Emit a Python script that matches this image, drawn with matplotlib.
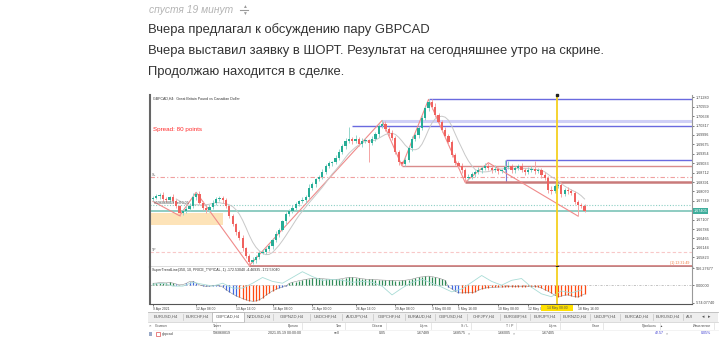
import numpy as np
import matplotlib
matplotlib.use("Agg")
import matplotlib.pyplot as plt
import matplotlib.transforms as mtransforms
from matplotlib.lines import Line2D
from matplotlib.patches import Rectangle

plt.rcParams['font.family'] = ['Liberation Sans', 'DejaVu Sans']

W, H = 720, 352

# forum post
post_time = "спустя 19 минут"
post_lines = ["Вчера предлагал к обсуждению пару GBPCAD",
              "Вчера выставил заявку в ШОРТ. Результат на сегодняшнее утро на скрине.",
              "Продолжаю находится в сделке."]

# GBPCAD H4 candles (closes, open of first bar, wicks in pips)
first_open = 1.6780
closes = [
    1.6785, 1.6791, 1.6795, 1.6781, 1.6778, 1.6788, 1.6774, 1.6757, 1.6733, 1.6740,
    1.6747, 1.6757, 1.6788, 1.6798, 1.6768, 1.6751, 1.6744, 1.6754, 1.6768, 1.6781,
    1.6785, 1.6778, 1.6757, 1.6723, 1.6696, 1.6669, 1.6648, 1.6614, 1.6587, 1.6566,
    1.6573, 1.6583, 1.6597, 1.6600, 1.6611, 1.6621, 1.6641, 1.6662, 1.6676, 1.6706,
    1.6730, 1.6740, 1.6751, 1.6764, 1.6774, 1.6778, 1.6788, 1.6819, 1.6832, 1.6849,
    1.6856, 1.6873, 1.6894, 1.6904, 1.6907, 1.6921, 1.6941, 1.6962, 1.6979, 1.6986,
    1.6979, 1.6986, 1.6969, 1.6979, 1.6982, 1.6972, 1.6986, 1.7003, 1.7030, 1.7037,
    1.7020, 1.7006, 1.6989, 1.6941, 1.6907, 1.6901, 1.6914, 1.6955, 1.6986, 1.6999,
    1.7023, 1.7057, 1.7092, 1.7112, 1.7095, 1.7068, 1.7044, 1.7017, 1.6996, 1.6976,
    1.6931, 1.6904, 1.6894, 1.6880, 1.6853, 1.6856, 1.6866, 1.6873, 1.6880, 1.6887,
    1.6894, 1.6887, 1.6880, 1.6884, 1.6877, 1.6880, 1.6890, 1.6894, 1.6880, 1.6887,
    1.6894, 1.6880, 1.6873, 1.6880, 1.6884, 1.6877, 1.6880, 1.6863, 1.6853, 1.6812,
    1.6808, 1.6826, 1.6829, 1.6798, 1.6812, 1.6808, 1.6802, 1.6771, 1.6761, 1.6757,
    1.67405,
]
wick_up = [
    6, 8, 5, 10, 7, 4, 9, 6, 5, 8,
    12, 11, 15, 6, 9, 5, 8, 6, 10, 7,
    5, 8, 6, 4, 7, 5, 6, 9, 5, 8,
    10, 6, 7, 12, 5, 8, 6, 9, 7, 5,
    8, 6, 10, 7, 5, 9, 6, 12, 8, 5,
    7, 10, 6, 8, 5, 9, 12, 7, 10, 40,
    8, 14, 6, 9, 7, 5, 10, 8, 6, 12,
    9, 7, 10, 6, 8, 5, 9, 7, 11, 6,
    8, 10, 7, 9, 9, 12, 8, 6, 10, 7,
    5, 8, 6, 9, 7, 11, 6, 8, 10, 7,
    9, 11, 8, 12, 7, 5, 23, 18, 6, 8,
    7, 10, 6, 9, 8, 28, 7, 6, 9, 8,
    12, 7, 6, 10, 8, 9, 7, 6, 8, 5,
    6,
]
wick_dn = [
    7, 5, 9, 6, 8, 10, 6, 7, 9, 5,
    8, 6, 7, 10, 5, 9, 12, 6, 8, 7,
    6, 9, 5, 8, 7, 10, 6, 9, 8, 12,
    6, 9, 7, 5, 8, 6, 10, 7, 9, 5,
    12, 8, 6, 9, 7, 5, 10, 8, 6, 9,
    7, 5, 8, 6, 9, 7, 6, 8, 12, 7,
    9, 6, 8, 10, 7, 65, 8, 6, 9, 7,
    7, 10, 8, 6, 9, 7, 8, 6, 10, 7,
    9, 6, 8, 10, 7, 6, 9, 8, 7, 10,
    6, 8, 7, 9, 15, 6, 8, 10, 7, 9,
    6, 8, 10, 7, 9, 6, 8, 7, 9, 10,
    8, 7, 9, 6, 8, 10, 7, 9, 8, 12,
    9, 7, 8, 10, 6, 9, 8, 7, 38, 6,
    5,
]

# zigzag pivots (bar index, price)
zz_idx = [0, 8, 13, 29, 69, 75, 83, 94, 101, 128]
zz_price = [1.6773, 1.6724, 1.6804, 1.6554, 1.7049, 1.6894, 1.7121, 1.6838, 1.6905, 1.6723]

# drawn levels
lvl_top = 1.71212        # from bar 83
lvl_band = 1.70479       # from bar 69
lvl_blue = 1.70291       # from bar 60
lvl_box_top = 1.69132    # from bar 106
lvl_rose = 1.68927       # from bar 75
lvl_box_bot = 1.68375    # from bar 94
lvl_low = 1.65538        # from bar 29
sl_price = 1.68552
tp_price = 1.66005
order_price = 1.67597
bid = 1.67405
zone = (1.66926, 1.67335)
vline_bar = 121.6

price_ticks = [1.71280, 1.70959, 1.70638, 1.70317, 1.69996, 1.69675, 1.69354, 1.69033,
               1.68712, 1.68391, 1.68070, 1.67749, 1.67107, 1.66786, 1.66465, 1.66144, 1.65823]

# indicator histogram and signal
hist = [
    65, 70, 85, 80, 75, 90, 70, 40, 10, 20,
    60, 120, 130, 70, 10, -20, -40, -30, -20, -15,
    -25, -60, -150, -220, -290, -350, -400, -440, -480, -510,
    -530, -520, -480, -420, -330, -260, -190, -140, -90, -60,
    -40, 60, 95, 120, 150, 170, 190, 210, 225, 230,
    225, 215, 205, 200, 190, 195, 200, 215, 240, 255,
    260, 250, 230, 215, 200, 190, 195, 185, 175, 170,
    165, 160, 155, 150, 150, 155, 165, 180, 200, 230,
    260, 275, 290, 300, 285, 260, 235, 200, 160, -60,
    -120, -200, -250, -255, -250, -245, -250, -220, -170, -120,
    -95, -80, -70, -65, -60, -60, -55, -50, -50, -45,
    -45, -50, -45, -40, -45, -50, -55, -90, -150, -200,
    -260, -330, -380, -360, -330, -320, -350, -380, -390, -340,
    -290,
]
blue_bars = list(range(7, 26)) + [38, 39, 40, 89, 90, 91, 92]
sig_idx = list(range(0, 130, 3))
sig_vals = [30, 65, -30, -30, 95, 30, -30, 65, -95, -95,
            65, 255, 125, 65, 255, 445, 285, 160, 190, 160,
            95, 125, 95, -30, -320, -95, 95, 190, 65, -65,
            -220, -125, 95, 320, 125, 0, 160, 220, -65, -285,
            -380, -190, -255, -160]
ind_title = "SuperTrendLine(350, 10, PRICE_TYPICAL, 1) -172.53040 -4.46935 -172.53040"

date_ticks = [0, 13, 25, 36, 48, 61, 73, 84, 92, 104, 113, 128]
date_labels = ["9 Apr 2021", "12 Apr 08:00", "13 Apr 16:00", "16 Apr 08:00", "21 Apr 00:00",
               "26 Apr 16:00", "29 Apr 08:00", "3 May 00:00", "5 May 16:00", "10 May 08:00",
               "12 May 00:00", "18 May 16:00"]
cursor_date = "14 May 08:00"

tab_names = ["EURUSD,H4", "EURCHF,H4", "GBPCAD,H4", "NZDUSD,H4", "GBPNZD,H4", "USDCHF,H4",
             "AUDJPY,H4", "GBPCHF,H4", "EURAUD,H4", "GBPUSD,H4", "CHFJPY,H4", "EURGBP,H4",
             "EURJPY,H4", "EURNZD,H4", "USDJPY,H4", "EURCAD,H4", "EURUSD,H4"]
active_tab = "GBPCAD,H4"

col_heads = ["Символ", "Тикет", "Время", "Тип", "Объем", "Цена", "S / L", "T / P",
             "Цена", "Своп", "Прибыль", "Изменение"]
row_vals = ["gbpcad", "596868819", "2021.05.19 00:00:00", "sell", "0.05", "1.67489",
            "1.68575", "1.66005", "1.67405", "", "42.57", "0.05%"]


def fx(x):
    return x / W


def fy(y):
    return 1 - y / H


def px_rect(x0, y0, x1, y1):
    return [x0 / W, 1 - y1 / H, (x1 - x0) / W, (y1 - y0) / H]


def main():
    fig = plt.figure(figsize=(W / 100, H / 100), dpi=100)
    fig.patch.set_facecolor('white')

    # post header
    fig.text(fx(149), fy(10), post_time, fontsize=7.4, color='#b4b4b4', style='italic', va='center')
    fig.text(fx(244), fy(6.5), "▲", fontsize=3.5, color='#9a9a9a', ha='center', va='center')
    fig.text(fx(244), fy(13.5), "▼", fontsize=3.5, color='#9a9a9a', ha='center', va='center')
    fig.add_artist(Line2D([fx(240.5), fx(247.5)], [fy(10), fy(10)], color='#9a9a9a', lw=0.8))
    for k, line in enumerate(post_lines):
        fig.text(fx(148), fy(30 + 21 * k), line, fontsize=9.4, color='#333333', va='center')

    # main price panel
    ax = fig.add_axes(px_rect(150, 95, 692, 267))
    n = len(closes)
    idx = np.arange(n)
    c = np.array(closes)
    o = np.concatenate([[first_open], c[:-1]])
    hi = np.maximum(o, c) + np.array(wick_up) * 1e-4
    lo = np.minimum(o, c) - np.array(wick_dn) * 1e-4
    bull = c >= o
    x_right = 162.35
    ax.set_xlim(-0.9, x_right)
    ax.set_ylim(1.65493, 1.71358)

    ax.add_patch(Rectangle((-0.9, zone[0]), 22.0, zone[1] - zone[0], fc='#fde3b8', ec='none', zorder=0))

    ax.hlines(lvl_top, 83, x_right, color='#6a6adf', lw=1.0)
    ax.hlines(lvl_band, 69, x_right, color='#cfcff6', lw=2.2)
    ax.hlines(lvl_blue, 60, x_right, color='#6a6adf', lw=1.0)
    ax.hlines(lvl_box_top, 106.3, x_right, color='#6a6adf', lw=1.0)
    ax.vlines(106.3, lvl_box_bot, lvl_box_top, color='#7a7ad8', lw=0.8)
    ax.hlines(lvl_rose, 75, x_right, color='#d98c8c', lw=1.0)
    ax.hlines(lvl_box_bot, 94, x_right, color='#c97a7a', lw=1.8)
    ax.hlines(lvl_low, 29, x_right, color='#d98c8c', lw=1.4)
    ax.axhline(sl_price, color='#f0a0a0', lw=0.8, ls=(0, (4, 2, 1, 2)))
    ax.axhline(tp_price, color='#f8c8c8', lw=0.8, ls=(0, (3, 2)))
    ax.axhline(order_price, color='#8ccfc4', lw=0.8, ls=(0, (1, 1.5)))
    ax.axhline(bid, color='#7cc4b8', lw=1.2)

    ax.plot(zz_idx, zz_price, color='#f08a8a', lw=0.8)
    ma = np.convolve(c, np.ones(8) / 8, mode='valid')
    ax.plot(idx[7:], ma, color='#c8c8c8', lw=0.7)

    body_col = np.where(bull, '#26ad96', '#f0625f')
    wick_col = np.where(bull, '#94d6cc', '#f4a4a4')
    ax.vlines(idx, lo, hi, colors=wick_col, lw=0.7, zorder=3)
    ax.bar(idx, np.maximum(np.abs(c - o), 6e-5), bottom=np.minimum(o, c), width=0.68,
           color=body_col, lw=0, zorder=4)

    ax.axvline(vline_bar, color='#f5d020', lw=1.3, zorder=5)
    ax.plot([vline_bar, vline_bar], [1.71358, 1.65493], 's', ms=1.6, color='#222222',
            clip_on=False, zorder=6)

    ax.text(-0.4, sl_price, "SL", fontsize=2.6, color='#555555', va='bottom')
    ax.text(-0.4, tp_price, "TP", fontsize=2.6, color='#555555', va='bottom')
    ax.text(0.2, order_price, "#596868819 sell 0.05", fontsize=2.6, color='#444444', va='bottom')
    ax.text(0.005, 0.982, "GBPCAD,H4:  Great Britain Pound vs Canadian Dollar", fontsize=2.6,
            color='#333333', transform=ax.transAxes, va='center')
    ax.text(0.006, 0.80, "Spread: 80 points", fontsize=4.5, color='#ff2a2a',
            transform=ax.transAxes, va='center')
    ax.text(0.995, 0.025, "(1) 13:31:49", fontsize=2.6, color='#f07a40',
            transform=ax.transAxes, ha='right', va='center')

    ax.yaxis.tick_right()
    ax.set_yticks(price_ticks)
    ax.set_yticklabels([f"{p:.5f}" for p in price_ticks])
    ax.tick_params(axis='y', length=1.5, width=0.5, pad=1, labelsize=2.7, colors='#444444')
    ax.set_xticks([])
    blend = mtransforms.blended_transform_factory(ax.transAxes, ax.transData)
    ax.text(1.003, bid, f"{bid:.5f}", transform=blend, ha='left', va='center', fontsize=2.7,
            color='white', bbox=dict(boxstyle='square,pad=0.25', fc='#3fae9c', ec='none'))
    ax.spines['top'].set_visible(False)
    ax.spines['left'].set_color('#666666')
    ax.spines['left'].set_linewidth(1.5)
    ax.spines['right'].set_color('#999999')
    ax.spines['right'].set_linewidth(0.8)
    ax.spines['bottom'].set_color('#555555')
    ax.spines['bottom'].set_linewidth(1.0)

    # indicator panel
    ax2 = fig.add_axes(px_rect(150, 267, 692, 304))
    ax2.set_xlim(-0.9, x_right)
    ax2.set_ylim(-620, 600)
    ax2.axhline(0, color='#aaaaaa', lw=0.5, ls=(0, (3, 2, 1, 2)), zorder=0)
    hcol = []
    for i, v in enumerate(hist):
        if i in blue_bars:
            hcol.append('#4169e1')
        elif v >= 0:
            hcol.append('#2e8b57')
        else:
            hcol.append('#ff4a12')
    ax2.vlines(idx, 0, hist, colors=hcol, lw=0.9)
    ax2.plot(idx, hist, color='#555555', lw=0.35, alpha=0.7)
    ax2.plot(sig_idx, sig_vals, color='#a8dcd6', lw=0.6)
    ax2.axvline(vline_bar, color='#f5d020', lw=1.3)
    ax2.text(0.004, 0.93, ind_title, fontsize=2.6, color='#333333', transform=ax2.transAxes, va='center')
    ax2.yaxis.tick_right()
    ax2.set_yticks([566.27677, 0, -574.0774])
    ax2.set_yticklabels(["566.27677", "0.00000", "-574.07740"])
    ax2.tick_params(axis='y', length=1.5, width=0.5, pad=1, labelsize=2.7, colors='#444444')
    ax2.set_xticks(date_ticks)
    ax2.set_xticklabels(date_labels)
    ax2.tick_params(axis='x', length=1.5, width=0.5, pad=0.8, labelsize=2.4, colors='#444444')
    for lbl in ax2.get_xticklabels():
        lbl.set_ha('left')
    ax2.spines['top'].set_visible(False)
    ax2.spines['left'].set_color('#666666')
    ax2.spines['left'].set_linewidth(1.5)
    ax2.spines['right'].set_color('#999999')
    ax2.spines['right'].set_linewidth(0.8)
    ax2.spines['bottom'].set_color('#555555')
    ax2.spines['bottom'].set_linewidth(0.8)

    # cursor date box
    fig.add_artist(Rectangle((fx(541), fy(311)), (573 - 541) / W, 6 / H, transform=fig.transFigure,
                             fc='#ffe000', ec='none'))
    fig.text(fx(557), fy(308), cursor_date, fontsize=2.4, color='#555555', ha='center', va='center')

    # tabs
    fig.add_artist(Rectangle((fx(148), fy(322)), (718 - 148) / W, 10 / H, transform=fig.transFigure,
                             fc='#eeeeee', ec='none'))
    fig.add_artist(Line2D([fx(148), fx(718)], [fy(312), fy(312)], color='#bbbbbb', lw=0.6))
    tab_edges = [150, 182.5, 212, 244, 273, 310, 341.5, 373, 405, 435, 467, 500, 530, 560,
                 590, 620, 653, 683]
    for k, name in enumerate(tab_names):
        x0, x1 = tab_edges[k], tab_edges[k + 1]
        if name == active_tab and k == 2:
            fig.add_artist(Rectangle((fx(x0), fy(322)), (x1 - x0) / W, 10 / H,
                                     transform=fig.transFigure, fc='white', ec='#aaaaaa', lw=0.5))
        else:
            fig.add_artist(Line2D([fx(x1), fx(x1)], [fy(314), fy(320)], color='#c4c4c4', lw=0.5))
        fig.text(fx((x0 + x1) / 2), fy(317), name, fontsize=3.0, color='#555555',
                 ha='center', va='center')
    fig.text(fx(686), fy(317), "AUI", fontsize=3.0, color='#555555', va='center')
    fig.text(fx(703), fy(317), "◂", fontsize=3.5, color='#555555', ha='center', va='center')
    fig.text(fx(709), fy(317), "▸", fontsize=3.5, color='#555555', ha='center', va='center')

    # trade table
    fig.add_artist(Line2D([fx(148), fx(718)], [fy(322), fy(322)], color='#cccccc', lw=0.5))
    fig.add_artist(Line2D([fx(153), fx(718)], [fy(329.5), fy(329.5)], color='#eeeeee', lw=0.5))
    fig.text(fx(150), fy(325), "×", fontsize=3.2, color='#666666', ha='center', va='center')
    fig.add_artist(Rectangle((fx(148.5), fy(336)), 3 / W, 4 / H, transform=fig.transFigure,
                             fc='#9aaac8', ec='none'))
    head_x = [155, 213, 299, 342, 383, 428, 468, 513, 557, 600, 657, 711]
    head_ha = ['left', 'left'] + ['right'] * 10
    val_x = [162, 213, 301, 340, 386, 430, 466, 511, 555, 600, 664, 711]
    for k, head in enumerate(col_heads):
        fig.text(fx(head_x[k]), fy(326), head, fontsize=2.5, color='#555555',
                 ha=head_ha[k], va='center')
        col = '#3a3ad0' if k >= 10 else '#444444'
        if row_vals[k]:
            fig.text(fx(val_x[k]), fy(333.5), row_vals[k], fontsize=2.6, color=col,
                     ha=head_ha[k], va='center')
        if k >= 1:
            fig.add_artist(Line2D([fx(head_x[k] + 3)] * 2, [fy(323), fy(329)], color='#dddddd', lw=0.5))
    fig.text(fx(661), fy(326), "▲", fontsize=2.2, color='#555555', ha='center', va='center')
    for xm in [469, 514, 667]:
        fig.text(fx(xm), fy(333.5), "×", fontsize=2.6, color='#777777', ha='center', va='center')
    fig.add_artist(Rectangle((fx(155.5), fy(335.5)), 4 / W, 4 / H, transform=fig.transFigure,
                             fc='white', ec='#e05050', lw=0.5))

    fig.savefig("out.png", dpi=100)


if __name__ == '__main__':
    main()
